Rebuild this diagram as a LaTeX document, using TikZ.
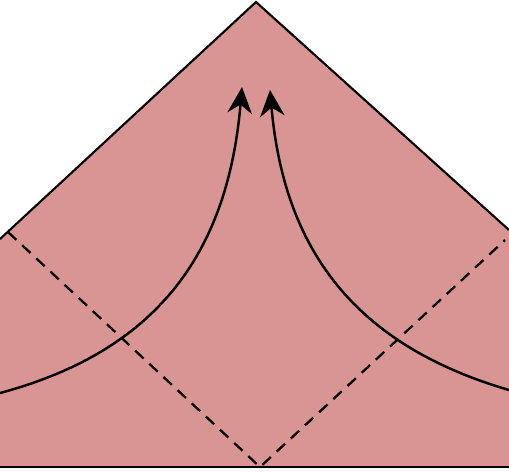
\documentclass[tikz,border=0pt]{standalone}
\usetikzlibrary{arrows.meta}
\definecolor{paper}{RGB}{217,148,148}
\tikzset{
  fold/.style={line width=1.3pt, dash pattern=on 6.5pt off 4.5pt},
  edge/.style={line width=1.2pt},
  move/.style={line width=1.4pt, -{Stealth[length=15pt,width=14pt,inset=5pt]}}
}
\begin{document}
\begin{tikzpicture}[x=0.02cm,y=-0.02cm]
\useasboundingbox (0,0) rectangle (509,471);
\coordinate (bl) at (0,467);
\coordinate (br) at (509,467);
\coordinate (l) at (0,239);
\coordinate (r) at (509,230);
\coordinate (top) at (256,2);
\coordinate (mid) at (260,467);

\fill[paper] (bl) -- (l) -- (top) -- (r) -- (br) -- cycle;
\draw[edge] (l) -- (top) -- (r);
\draw[edge] (bl) -- (br);

\draw[fold] (8,232) -- (mid) -- (505,240);

\draw[move] (0,393) .. controls (160,350) and (228,250) .. (242,87);
\draw[move] (509,390) .. controls (355,345) and (284,250) .. (270,90);
\end{tikzpicture}
\end{document}
